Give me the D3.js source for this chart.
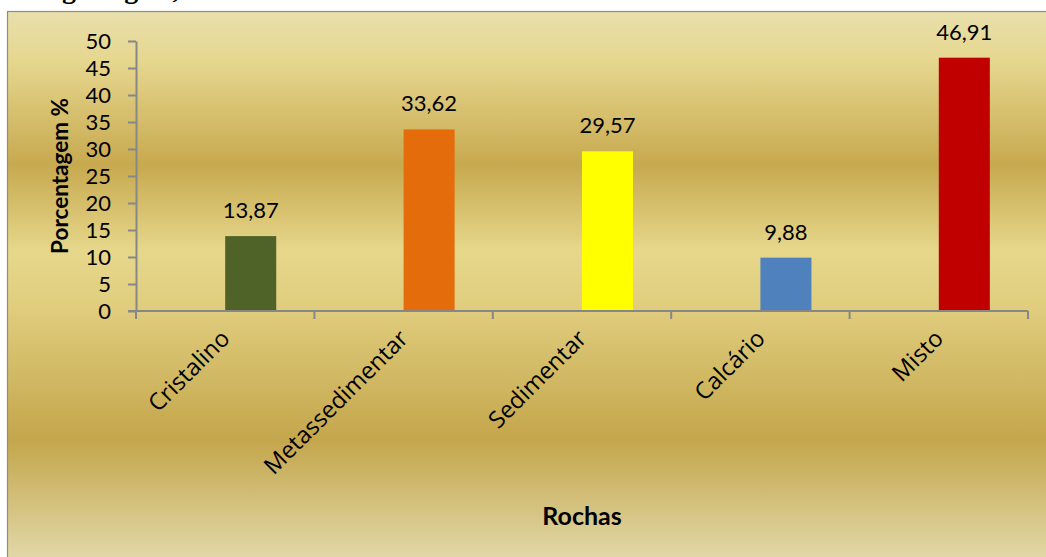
<!DOCTYPE html>
<html>
<head>
<meta charset="utf-8">
<script src="https://cdn.jsdelivr.net/npm/d3@7"></script>
<style>
  html, body { margin: 0; padding: 0; background: #ffffff; }
  svg { display: block; }
  text { font-family: Lato, "Open Sans", "Liberation Sans", sans-serif; fill: #000; }
</style>
</head>
<body>
<svg id="chart" width="1046" height="557"></svg>
<script>
// Rock types and their share (%)
const categories = ["Cristalino", "Metassedimentar", "Sedimentar", "Calcário", "Misto"];
const values = [13.87, 33.62, 29.57, 9.88, 46.91];
const barColors = ["#4f6228", "#e46c0a", "#ffff00", "#4f81bd", "#c00000"];
const yTicks = [0, 5, 10, 15, 20, 25, 30, 35, 40, 45, 50];
const fmt = v => v.toFixed(2).replace(".", ",");

const svg = d3.select("#chart");
const W = 1046, H = 557;

// gold chart-area fill
const defs = svg.append("defs");
const grad = defs.append("linearGradient")
  .attr("id", "gold").attr("gradientUnits", "userSpaceOnUse")
  .attr("x1", 0).attr("y1", 12).attr("x2", 0).attr("y2", 557);
[[12, "#e8dfab"], [60, "#e6d78f"], [165, "#c7a94f"], [250, "#e6d78b"],
 [300, "#e1cf80"], [440, "#c4a64c"], [557, "#e1d7a6"]].forEach(([y, c]) => {
  grad.append("stop").attr("offset", ((y - 12) / (557 - 12))).attr("stop-color", c);
});

// caption line above the chart frame (runs off the page top)
svg.append("text")
  .attr("x", 62).attr("y", -2)
  .style("font-family", "'Liberation Serif', 'DejaVu Serif', serif")
  .style("font-weight", "bold").style("font-size", "28px")
  .text("geológico, Autor");

svg.append("rect")
  .attr("x", 7.5).attr("y", 11.5).attr("width", W).attr("height", H)
  .attr("fill", "url(#gold)").attr("stroke", "#8c8c8c").attr("stroke-width", 1.2);

const x = d3.scaleBand().domain(categories).range([136, 1028]).paddingInner(0).paddingOuter(0);
const y = d3.scaleLinear().domain([0, 50]).range([311, 41]);
const barW = x.bandwidth() * 0.286;
const axisColor = "#878787";

// bars start at the band centre
svg.append("g").selectAll("rect").data(categories).join("rect")
  .attr("x", d => x(d) + x.bandwidth() / 2)
  .attr("y", (d, i) => y(values[i]))
  .attr("width", barW)
  .attr("height", (d, i) => y(0) - y(values[i]))
  .attr("fill", (d, i) => barColors[i]);

// value labels
svg.append("g").selectAll("text").data(categories).join("text")
  .attr("x", d => x(d) + x.bandwidth() / 2 + barW / 2)
  .attr("y", (d, i) => y(values[i]) - 18)
  .attr("text-anchor", "middle")
  .style("font-size", "22px")
  .text((d, i) => fmt(values[i]));

// y axis
const yAxis = svg.append("g").attr("transform", "translate(136,0)")
  .call(d3.axisLeft(y).tickValues(yTicks).tickSize(8).tickSizeOuter(0).tickPadding(17));
yAxis.select(".domain").attr("stroke", axisColor).attr("stroke-width", 2);
yAxis.selectAll(".tick line").attr("stroke", axisColor).attr("stroke-width", 2);
yAxis.selectAll(".tick text").style("font-size", "22px").style("font-family", "Lato, sans-serif").attr("fill", "#000");

// x axis with boundary ticks between categories
const xAxis = svg.append("g").attr("transform", "translate(0,311)")
  .call(d3.axisBottom(x).tickSize(0).tickFormat(""));
xAxis.select(".domain").remove();
xAxis.append("line").attr("x1", 128).attr("x2", 1028).attr("y1", 0).attr("y2", 0)
  .attr("stroke", axisColor).attr("stroke-width", 2);
const edges = categories.map(c => x(c)).concat([x.range()[1]]);
xAxis.selectAll(".edge").data(edges).join("line").attr("class", "edge")
  .attr("x1", d => d).attr("x2", d => d).attr("y1", 0).attr("y2", 8)
  .attr("stroke", axisColor).attr("stroke-width", 2);

// rotated category labels
svg.append("g").selectAll("text").data(categories).join("text")
  .attr("transform", d => `translate(${x(d) + x.bandwidth() / 2 + 6},340) rotate(-45)`)
  .attr("text-anchor", "end")
  .style("font-family", "'Open Sans', Lato, sans-serif")
  .style("font-size", "23.5px")
  .text(d => d);

// axis titles
svg.append("text")
  .attr("transform", "translate(68,176) rotate(-90)")
  .attr("text-anchor", "middle")
  .style("font-size", "22.5px").style("font-weight", "bold")
  .text("Porcentagem %");

svg.append("text")
  .attr("x", 582).attr("y", 525)
  .attr("text-anchor", "middle")
  .style("font-size", "25px").style("font-weight", "bold")
  .text("Rochas");
</script>
</body>
</html>
